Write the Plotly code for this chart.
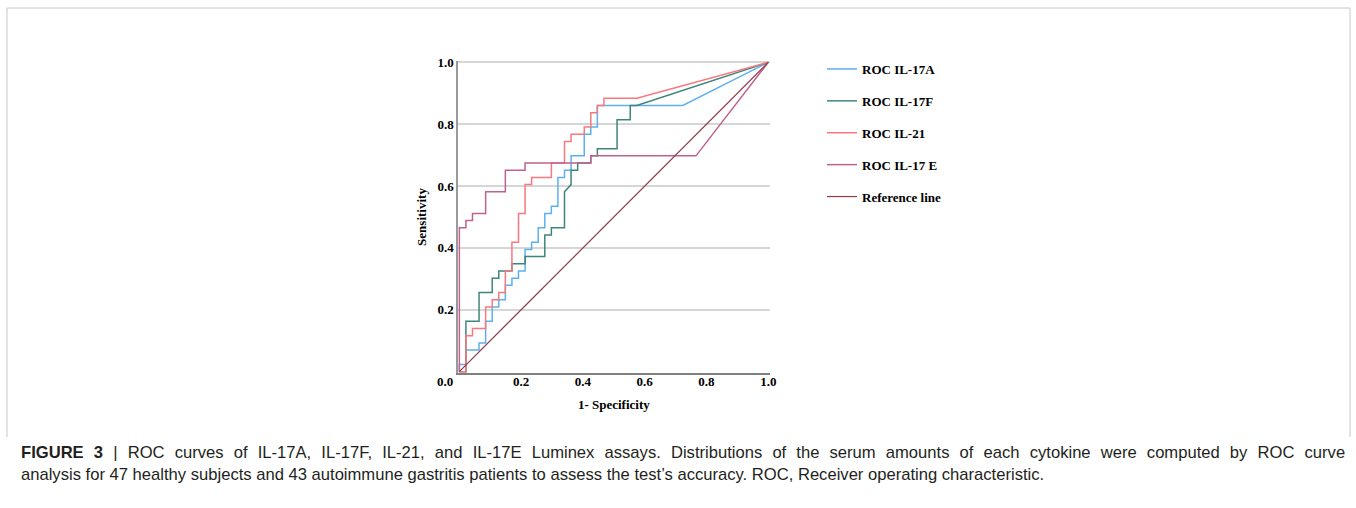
import plotly.graph_objects as go

# ---- data ----
fpr_17a = [0, 0, 0.0213, 0.0213, 0.0638, 0.0638, 0.0851, 0.0851, 0.1064, 0.1064, 0.1277, 0.1277,
           0.1489, 0.1489, 0.1702, 0.1702, 0.1915, 0.1915, 0.2128, 0.2128, 0.2340, 0.2340, 0.2553, 0.2553,
           0.2766, 0.2766, 0.2979, 0.2979, 0.3191, 0.3191, 0.3404, 0.3404, 0.3617, 0.3617, 0.4043, 0.4043,
           0.4255, 0.4255, 0.4468, 0.4468, 0.7234, 1]
tpr_17a = [0, 0.0233, 0.0233, 0.0698, 0.0698, 0.0930, 0.0930, 0.1628, 0.1628, 0.2093, 0.2093, 0.2326,
           0.2326, 0.2791, 0.2791, 0.3023, 0.3023, 0.3256, 0.3256, 0.3953, 0.3953, 0.4186, 0.4186, 0.4651,
           0.4651, 0.5116, 0.5116, 0.5349, 0.5349, 0.6279, 0.6279, 0.6512, 0.6512, 0.6977, 0.6977, 0.7674,
           0.7674, 0.7907, 0.7907, 0.8605, 0.8605, 1]

fpr_17f = [0, 0.0213, 0.0213, 0.0638, 0.0638, 0.1064, 0.1064, 0.1277, 0.1277, 0.1702, 0.1702, 0.2128,
           0.2128, 0.2766, 0.2766, 0.2979, 0.2979, 0.3404, 0.3404, 0.3617, 0.3617, 0.3830, 0.3830, 0.4255,
           0.4255, 0.4468, 0.4468, 0.5106, 0.5106, 0.5532, 0.5532, 0.5745, 1]
tpr_17f = [0, 0, 0.1628, 0.1628, 0.2558, 0.2558, 0.3023, 0.3023, 0.3256, 0.3256, 0.3488, 0.3488,
           0.3721, 0.3721, 0.4419, 0.4419, 0.4651, 0.4651, 0.5814, 0.6047, 0.6512, 0.6512, 0.6744, 0.6744,
           0.6977, 0.6977, 0.7209, 0.7209, 0.8140, 0.8140, 0.8605, 0.8605, 1]

fpr_21 = [0, 0.0213, 0.0213, 0.0426, 0.0426, 0.0851, 0.0851, 0.1064, 0.1064, 0.1277, 0.1277, 0.1489,
          0.1489, 0.1702, 0.1702, 0.1915, 0.1915, 0.2128, 0.2128, 0.2340, 0.2340, 0.2979, 0.2979, 0.3404,
          0.3404, 0.3617, 0.3617, 0.4043, 0.4043, 0.4255, 0.4255, 0.4468, 0.4468, 0.4681, 0.4681, 0.5745, 1]
tpr_21 = [0, 0, 0.1163, 0.1163, 0.1395, 0.1395, 0.2093, 0.2093, 0.2326, 0.2326, 0.2558, 0.2558,
          0.3256, 0.3256, 0.4186, 0.4186, 0.5116, 0.5116, 0.6047, 0.6047, 0.6279, 0.6279, 0.6744, 0.6744,
          0.7442, 0.7442, 0.7674, 0.7674, 0.7907, 0.7907, 0.8372, 0.8372, 0.8605, 0.8605, 0.8837, 0.8837, 1]

fpr_17e = [0, 0, 0.0213, 0.0213, 0.0426, 0.0426, 0.0851, 0.0851, 0.1489, 0.1489, 0.2128, 0.2128,
           0.4255, 0.4255, 0.7660, 1]
tpr_17e = [0, 0.4651, 0.4651, 0.4884, 0.4884, 0.5116, 0.5116, 0.5814, 0.5814, 0.6512, 0.6512, 0.6744,
           0.6744, 0.6977, 0.6977, 1]

fpr_ref = [0, 1]
tpr_ref = [0, 1]

names = ["ROC IL-17A", "ROC IL-17F", "ROC IL-21", "ROC IL-17 E", "Reference line"]
colors = ["#5cb0f0", "#3f857c", "#f7787f", "#c0628f", "#8e3a4a"]
widths = [1.5, 1.5, 1.5, 1.5, 1.2]
tick_vals = [0.2, 0.4, 0.6, 0.8, 1.0]
tick_text = ["0.2", "0.4", "0.6", "0.8", "1.0"]

# caption (first line is justified in the reference: widen word gaps)
caption1_words = ["<b>FIGURE</b>", "<b>3</b>", "|", "ROC", "curves", "of", "IL-17A,", "IL-17F,", "IL-21,", "and",
                  "IL-17E", "Luminex", "assays.", "Distributions", "of", "the", "serum", "amounts", "of",
                  "each", "cytokine", "were", "computed", "by", "ROC", "curve"]
caption2 = ("analysis for 47 healthy subjects and 43 autoimmune gastritis patients to assess the test’s "
            "accuracy. ROC, Receiver operating characteristic.")
caption1 = (" \u2004").join(caption1_words)

series = [(fpr_17a, tpr_17a), (fpr_17f, tpr_17f), (fpr_21, tpr_21), (fpr_17e, tpr_17e), (fpr_ref, tpr_ref)]

W, H = 1356, 508
fig = go.Figure()
for i, (xs, ys) in enumerate(series):
    fig.add_trace(go.Scatter(x=xs, y=ys, mode="lines", name=names[i], legendgroup=names[i],
                             line=dict(color=colors[i], width=widths[i])))

serif = "Liberation Serif"
tickfont = dict(family=serif, size=13, color="black", weight="bold")

# plot area pixel geometry
x0_px, x1_px = 458.1, 769.5
y_top_px, y_bot_px = 61.1, 372.9

fig.update_layout(
    width=W, height=H,
    margin=dict(l=0, r=0, t=0, b=0),
    paper_bgcolor="white", plot_bgcolor="white",
    showlegend=True,
    legend=dict(x=822 / W, y=1 - 54 / H, xanchor="left", yanchor="top",
                font=dict(family=serif, size=13, color="black", weight="bold"),
                tracegroupgap=12, bgcolor="rgba(0,0,0,0)"),
    xaxis=dict(domain=[x0_px / W, x1_px / W], range=[-0.004, 1.004],
               tickvals=tick_vals, ticktext=tick_text, tickfont=tickfont,
               showgrid=False, zeroline=False, showline=True, linecolor="#808080", linewidth=2,
               ticks="", automargin=False, ticklabelstandoff=-5,
               title=dict(text="1- Specificity", font=dict(family=serif, size=13, color="black", weight="bold"),
                          standoff=12)),
    yaxis=dict(domain=[1 - y_bot_px / H, 1 - y_top_px / H], range=[-0.004, 1.004],
               tickvals=tick_vals, ticktext=tick_text, tickfont=tickfont,
               showgrid=True, gridcolor="#d6d6d6", gridwidth=1.5,
               zeroline=False, showline=True, linecolor="#9a9a9a", linewidth=1.5,
               ticks="", automargin=False,
               title=dict(text="Sensitivity", font=dict(family=serif, size=13, color="black", weight="bold"),
                          standoff=8)),
)

# corner label shared by both axes
fig.add_annotation(x=445 / W, y=1 - 381 / H, xref="paper", yref="paper", text="<b>0.0</b>",
                   showarrow=False, font=dict(family=serif, size=13, color="black"),
                   xanchor="center", yanchor="middle")

# caption
capfont = dict(family="Liberation Sans", size=16.6, color="#231f20")
fig.add_annotation(x=19 / W, y=1 - 452 / H, xref="paper", yref="paper", text=caption1, showarrow=False,
                   font=capfont, xanchor="left", yanchor="middle", align="left")
fig.add_annotation(x=19 / W, y=1 - 474 / H, xref="paper", yref="paper", text=caption2, showarrow=False,
                   font=capfont, xanchor="left", yanchor="middle", align="left")

# figure frame
fig.add_shape(type="path", xref="paper", yref="paper",
              path=f"M {7 / W} {1 - 437 / H} L {7 / W} {1 - 8 / H} L {1350 / W} {1 - 8 / H} L {1350 / W} {1 - 437 / H}",
              line=dict(color="#c8c8c8", width=1))

fig.write_html("out.html", config={"displayModeBar": False},
               post_script="document.body.style.margin='0px';")
